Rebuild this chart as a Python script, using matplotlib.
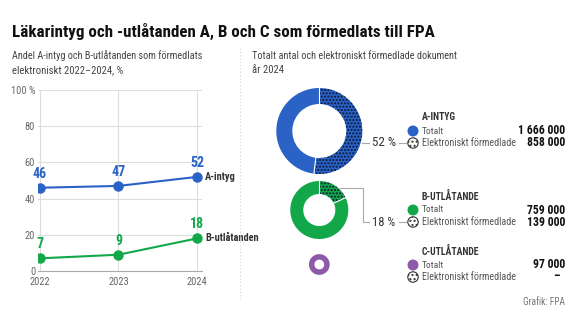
import numpy as np
import matplotlib
matplotlib.use('Agg')
import matplotlib.pyplot as plt
from matplotlib import font_manager
from matplotlib.patches import Wedge, Circle

# data
years = [2022, 2023, 2024]
a_intyg = [46, 47, 52]
b_utlatanden = [7, 9, 18]
doc_names = ['A-INTYG', 'B-UTLÅTANDE', 'C-UTLÅTANDE']
totals = [1666000, 759000, 97000]
electronic = [858000, 139000, None]
shares = [52, 18, None]

blue = '#2a62c6'
green = '#12a84a'
purple = '#8c5aa8'
dark = '#0b1733'
colors = [blue, green, purple]

# a narrow font if there is one
names = {f.name for f in font_manager.fontManager.ttflist}
fam = 'Roboto'
for cand in ['Liberation Sans Narrow', 'Roboto Condensed', 'Noto Sans Condensed',
             'Open Sans Condensed', 'Noto Sans SemiCondensed', 'DejaVu Sans Condensed']:
    if cand in names:
        fam = cand
        break
plt.rcParams['font.family'] = [fam, 'DejaVu Sans']

W, H = 575, 323
fig = plt.figure(figsize=(W / 100, H / 100), dpi=100)
renderer = fig.canvas.get_renderer()


def txt(x, y, s, width=None, **kw):
    kw.setdefault('va', 'center')
    t = fig.text(x / W, 1 - y / H, s, **kw)
    if width:
        w = t.get_window_extent(renderer).width
        t.set_fontsize(t.get_fontsize() * width / w)
    return t


def fmt(v):
    return f'{v:,}'.replace(',', ' ')


txt(12, 31, 'Läkarintyg och -utlåtanden A, B och C som förmedlats till FPA', width=424,
    fontsize=14, fontweight='bold', color='#111111')
txt(12, 56, 'Andel A-intyg och B-utlåtanden som förmedlats', width=192, fontsize=9, color='#444444')
txt(12, 70, 'elektroniskt 2022–2024, %', width=111, fontsize=9, color='#444444')
txt(252, 56, 'Totalt antal och elektroniskt förmedlade dokument', width=206, fontsize=9, color='#444444')
txt(252, 70, 'år 2024', width=32, fontsize=9, color='#444444')
txt(565, 302, 'Grafik: FPA', width=42, fontsize=7.5, color='#777777', ha='right')

# left: line chart
ax = fig.add_axes([38 / W, (H - 271) / H, 164 / W, 181 / H])
ax.plot(years, a_intyg, color=blue, lw=1.5, marker='o', ms=6.5, zorder=3)
ax.plot(years, b_utlatanden, color=green, lw=1.5, marker='o', ms=6.5, zorder=3)
for x, v in zip(years, a_intyg):
    ax.annotate(str(v), (x, v), xytext=(0, 14), textcoords='offset pixels',
                ha='center', va='center', color=blue, fontsize=10, fontweight='bold')
for x, v in zip(years, b_utlatanden):
    ax.annotate(str(v), (x, v), xytext=(0, 14), textcoords='offset pixels',
                ha='center', va='center', color=green, fontsize=10, fontweight='bold')
ax.annotate('A-intyg', (years[-1], a_intyg[-1]), xytext=(8, 0), textcoords='offset pixels',
            va='center', fontsize=7.5, fontweight='bold', color='#333333', annotation_clip=False)
ax.annotate('B-utlåtanden', (years[-1], b_utlatanden[-1]), xytext=(8, 0), textcoords='offset pixels',
            va='center', fontsize=7.5, fontweight='bold', color='#333333', annotation_clip=False)
ax.set_xlim(2021.975, 2024.064)
ax.set_ylim(0, 100)
ax.set_xticks(years)
ax.set_yticks(range(0, 101, 20))
ax.set_yticklabels(['0', '20', '40', '60', '80', '100 %'])
ax.grid(True, color='#dddddd', lw=0.8)
ax.set_axisbelow(True)
for s in ['top', 'right', 'left']:
    ax.spines[s].set_visible(False)
ax.spines['bottom'].set_color('#aaaaaa')
ax.tick_params(length=0, labelsize=7.5, labelcolor='#666666')
ax.tick_params(axis='x', pad=4)
ax.tick_params(axis='y', pad=2)

# overlay in pixel coordinates
ov = fig.add_axes([0, 0, 1, 1])
ov.set_xlim(0, W)
ov.set_ylim(0, H)
ov.axis('off')
ov.plot([240, 240], [H - 48, H - 300], color='#d5d5d5', lw=0.8, ls=(0, (1, 2)))

# right: donuts, area proportional to total
centers = [(319.3, 131), (319.3, 210), (319.3, 264.5)]
ring = [16, 13, 5.5]
r0 = 43
for i in range(3):
    cx, cy = centers[i]
    r = r0 * np.sqrt(totals[i] / totals[0])
    cy = H - cy
    if shares[i] is None:
        ov.add_patch(Wedge((cx, cy), r, 0, 360, width=ring[i], facecolor=colors[i], lw=0))
        continue
    ang = 90 - shares[i] * 3.6
    ov.add_patch(Wedge((cx, cy), r, ang, 90, width=ring[i], facecolor=colors[i], lw=0))
    ov.add_patch(Wedge((cx, cy), r, ang, 90, width=ring[i], fill=False, hatch='.....',
                       edgecolor=dark, lw=0))
    ov.add_patch(Wedge((cx, cy), r, 90, 360 + ang, width=ring[i], facecolor=colors[i], lw=0))
    for a in [90, ang]:
        t = np.radians(a)
        ov.plot([cx + (r - ring[i]) * np.cos(t), cx + r * np.cos(t)],
                [cy + (r - ring[i]) * np.sin(t), cy + r * np.sin(t)], color='white', lw=0.8)

# connectors
ov.plot([362, 369], [H - 143, H - 143], color='#aaaaaa', lw=0.8)
ov.plot([399, 406], [H - 143, H - 143], color='#aaaaaa', lw=0.8)
txt(384, 143, f'{shares[0]} %', width=24, fontsize=8.5, color='#333333', ha='center')
ov.plot([340, 363, 363, 369], [H - 188, H - 188, H - 222, H - 222], color='#aaaaaa', lw=0.8)
ov.plot([399, 406], [H - 222, H - 222], color='#aaaaaa', lw=0.8)
txt(384, 222, f'{shares[1]} %', width=23, fontsize=8.5, color='#333333', ha='center')

# legend blocks
heads = [117, 196, 251]
for i in range(3):
    y0 = heads[i]
    txt(422, y0, doc_names[i], fontsize=7, fontweight='bold', color='#333333')
    ov.add_patch(Circle((413, H - (y0 + 14)), 5.5, facecolor=colors[i], lw=0))
    ov.add_patch(Circle((413, H - (y0 + 26)), 5.2, facecolor='white', edgecolor='#333333',
                        lw=0.8, hatch='....'))
    txt(422, y0 + 14, 'Totalt', width=22, fontsize=7.5, color='#555555')
    txt(422, y0 + 26, 'Elektroniskt förmedlade', width=94, fontsize=7.5, color='#555555')
    txt(565, y0 + 14, fmt(totals[i]), fontsize=8.5, fontweight='bold', color='#111111', ha='right')
    ev = fmt(electronic[i]) if electronic[i] else '–'
    txt(565 if electronic[i] else 560, y0 + 26, ev, fontsize=8.5, fontweight='bold',
        color='#111111', ha='right')

fig.savefig('out.png', dpi=100)
